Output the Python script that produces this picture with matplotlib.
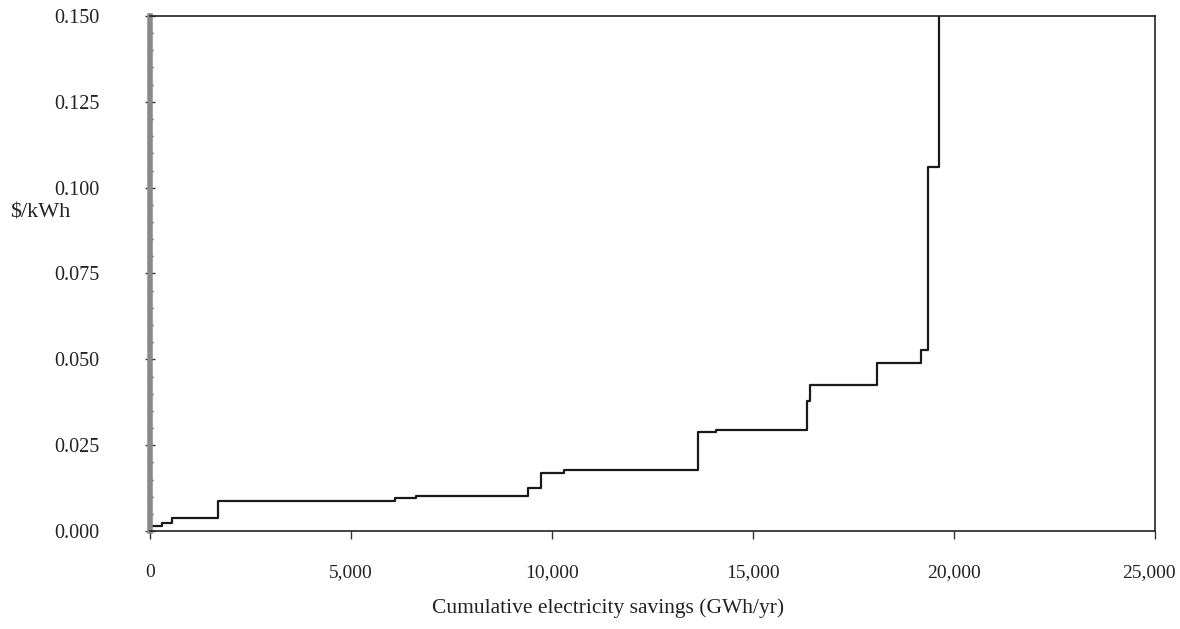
import numpy as np
import matplotlib
matplotlib.use('Agg')
import matplotlib.pyplot as plt
import matplotlib.transforms as mtransforms
from matplotlib.ticker import MultipleLocator, FuncFormatter

plt.rcParams['font.family'] = ['Liberation Serif', 'DejaVu Serif']

# step edges (GWh/yr) and cost of each step ($/kWh)
savings_edges = [0, 291, 540, 1684, 6095, 6617, 9410, 9726, 10306,
                 13625, 14080, 16350, 16420, 18080, 19170, 19360, 19630]
step_cost = [0.0015, 0.0022, 0.0037, 0.0088, 0.0095, 0.0102, 0.0125,
             0.0170, 0.0177, 0.0288, 0.0295, 0.0380, 0.0424, 0.0489,
             0.0526, 0.1059]
top_cost = 0.16  # last measure runs off the top of the chart

x_ticks = [0, 5000, 10000, 15000, 20000, 25000]

fig = plt.figure(figsize=(11.8, 6.29), dpi=100)
ax = fig.add_axes([150/1180, 1-531/629, 1005/1180, 515/629])

ys = step_cost + [top_cost]
ax.step(savings_edges, ys, where='post', color='#1a1a1a', lw=1.6)

ax.set_xlim(0, 25000)
ax.set_ylim(0, 0.150)
ax.set_xticks(x_ticks)
ax.xaxis.set_major_formatter(FuncFormatter(lambda v, p: '{:,.0f}'.format(v)))
ax.yaxis.set_major_locator(MultipleLocator(0.025))
ax.yaxis.set_minor_locator(MultipleLocator(0.005))
ax.yaxis.set_major_formatter(FuncFormatter(lambda v, p: '{:.3f}'.format(v)))

ax.tick_params(axis='y', which='major', direction='inout', length=7, width=1,
               pad=33, labelsize=14.5, color='#333333', labelcolor='#222222')
ax.tick_params(axis='y', which='minor', direction='inout', length=4, width=1,
               color='#333333')
ax.tick_params(axis='x', which='major', direction='out', length=6, width=1,
               pad=18, labelsize=14, color='#333333', labelcolor='#222222')

# nudge the last x label left so it stays inside the figure
last = ax.get_xticklabels()[-1]
last.set_transform(last.get_transform() +
                   mtransforms.ScaledTranslation(-6/100, 0, fig.dpi_scale_trans))

for s in ['top', 'right', 'bottom']:
    ax.spines[s].set_linewidth(1.2)
    ax.spines[s].set_color('#222222')
ax.spines['left'].set_linewidth(4)
ax.spines['left'].set_color('#8a8a8a')

fig.text(608/1180, 1-608/629, 'Cumulative electricity savings (GWh/yr)',
         fontsize=15.5, ha='center', va='center', color='#222222')
fig.text(10/1180, 1-213/629, r'\$/kWh', fontsize=16, ha='left', va='center',
         color='#222222')

fig.savefig('out.png', dpi=100)
